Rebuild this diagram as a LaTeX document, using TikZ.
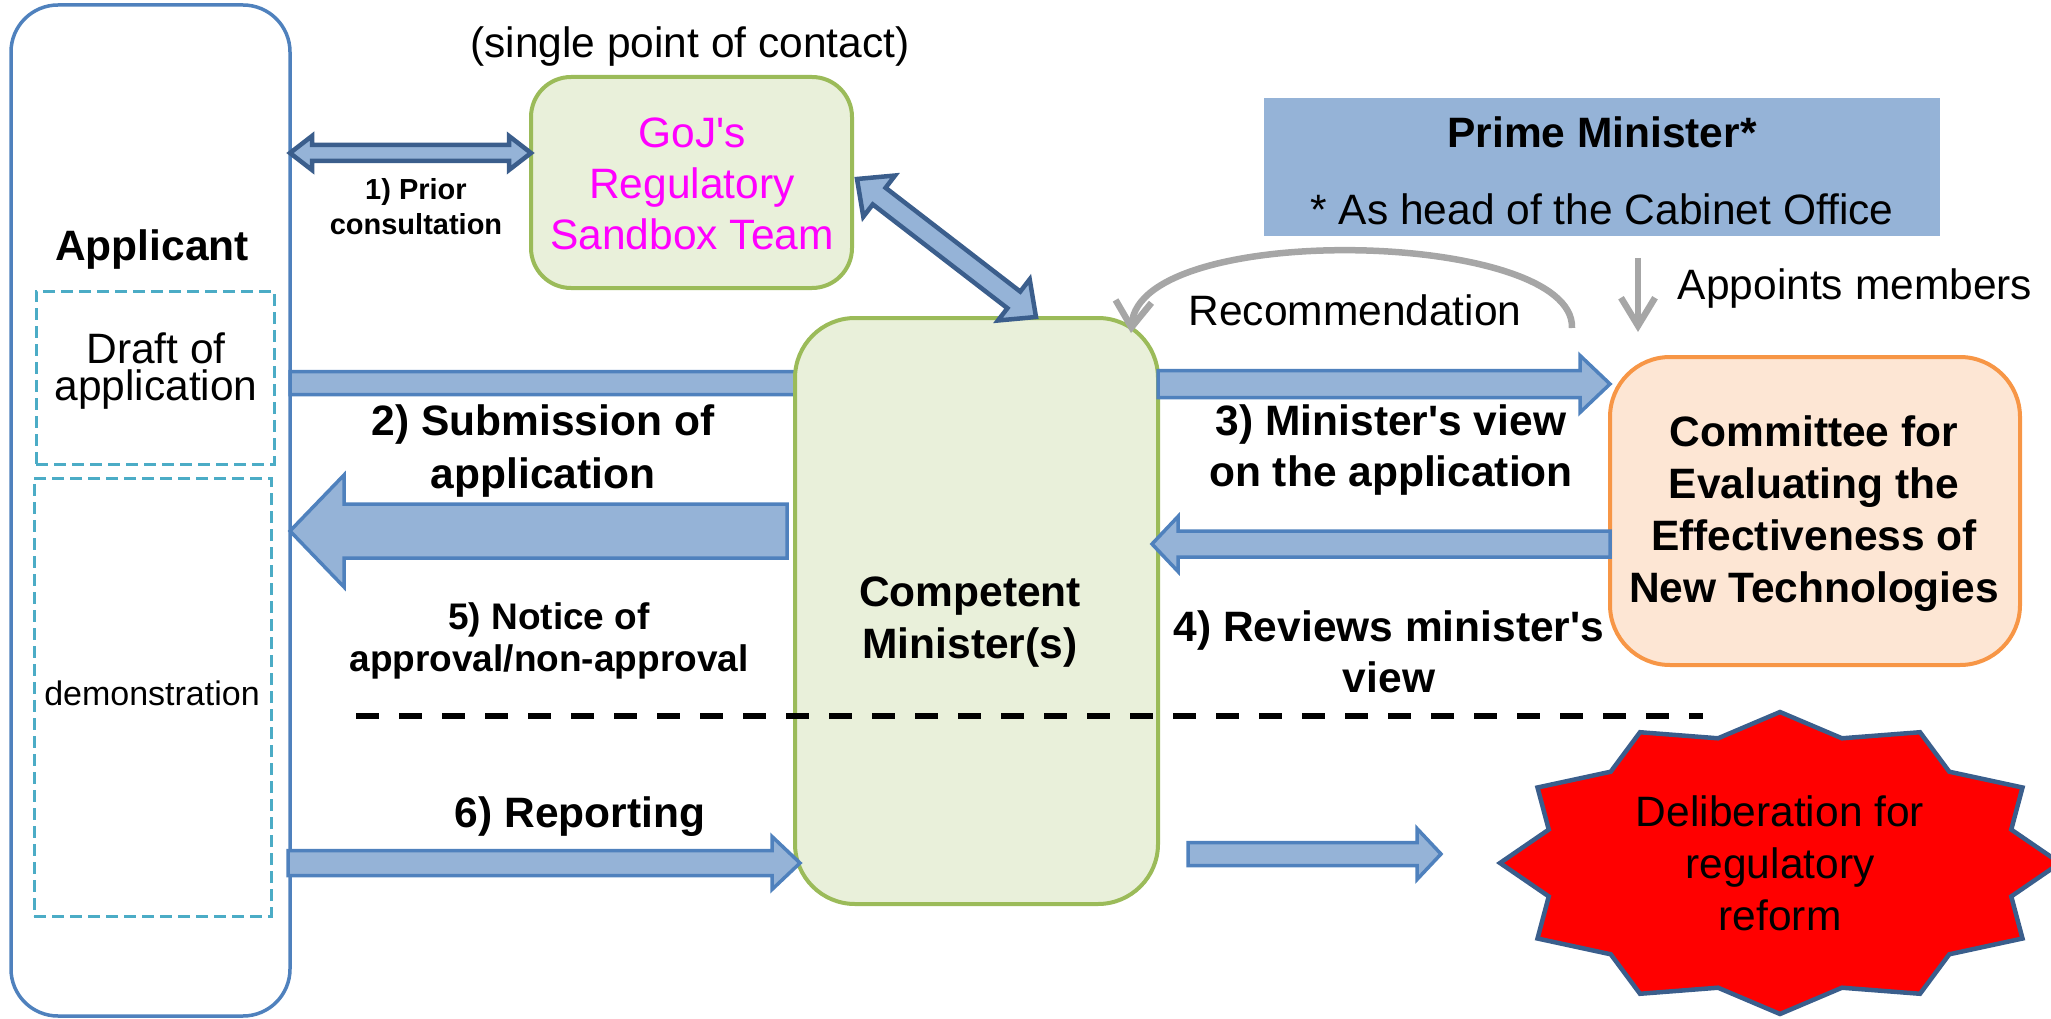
\documentclass[tikz,border=0pt]{standalone}
\usepackage{fontspec}
\setmainfont{Liberation Sans}
\usetikzlibrary{calc,arrows.meta}
\pgfdeclarelayer{bg}
\pgfsetlayers{bg,main}
\definecolor{arrfill}{HTML}{95B3D7}
\definecolor{arrline}{HTML}{4F81BD}
\definecolor{darkline}{HTML}{3B5E8C}
\definecolor{grnline}{HTML}{9BBB59}
\definecolor{grnfill}{HTML}{E9F0DA}
\definecolor{orgline}{HTML}{F79646}
\definecolor{orgfill}{HTML}{FDE6D4}
\definecolor{dashcol}{HTML}{4BACC6}
\definecolor{pmfill}{HTML}{95B3D7}
\definecolor{grayarr}{HTML}{A6A6A6}
\definecolor{starline}{HTML}{3A5E8C}
\definecolor{magen}{HTML}{FF00FF}
\tikzset{
  barrow/.style={fill=arrfill, draw=arrline, line width=3.5pt, line join=miter},
  dbarrow/.style={fill=arrfill, draw=darkline, line width=4.5pt, line join=miter},
  boxnode/.style={rectangle, inner sep=0pt, outer sep=0pt},
  txt/.style={inner sep=0pt, align=center, font=\fontsize{42.5}{51}\selectfont},
  btxt/.style={inner sep=0pt, align=center, font=\fontsize{42.5}{51}\selectfont\bfseries},
  grayline/.style={draw=grayarr, line width=6.5pt},
}
\newcommand\blockarr[6][]{%
  \coordinate (ba-h) at ($(#3)!#6pt!(#2)$);
  \draw[barrow,#1] ($(#2)!#4pt!90:(#3)$) -- ($(ba-h)!#4pt!-90:(#2)$) -- ($(ba-h)!#5pt!-90:(#2)$) -- (#3) -- ($(ba-h)!#5pt!90:(#2)$) -- ($(ba-h)!#4pt!90:(#2)$) -- ($(#2)!#4pt!-90:(#3)$) -- cycle;
}
\newcommand\dblarr[6][]{%
  \coordinate (da-h1) at ($(#2)!#6pt!(#3)$);
  \coordinate (da-h2) at ($(#3)!#6pt!(#2)$);
  \draw[dbarrow,#1] (#2) -- ($(da-h1)!#5pt!90:(#3)$) -- ($(da-h1)!#4pt!90:(#3)$) -- ($(da-h2)!#4pt!-90:(#2)$) -- ($(da-h2)!#5pt!-90:(#2)$) -- (#3) -- ($(da-h2)!#5pt!90:(#2)$) -- ($(da-h2)!#4pt!90:(#2)$) -- ($(da-h1)!#4pt!-90:(#3)$) -- ($(da-h1)!#5pt!-90:(#3)$) -- cycle;
}
\begin{document}
\begin{tikzpicture}[x=1pt,y=-1pt]
\useasboundingbox (0,0) rectangle (2051,1019);
% boxes
\node[boxnode, draw=arrline, line width=3.5pt, rounded corners=47pt, minimum width=279pt, minimum height=1011pt] (appl) at (150.5,510.5) {};
\node[boxnode, draw=dashcol, line width=3pt, dash pattern=on 12pt off 6pt, minimum width=238pt, minimum height=173pt] (draftbox) at (155,377.5) {};
\node[boxnode, draw=dashcol, line width=3pt, dash pattern=on 12pt off 6pt, minimum width=237pt, minimum height=438pt] (demobox) at (152.5,697) {};
\node[boxnode, draw=grnline, fill=grnfill, line width=4pt, rounded corners=40pt, minimum width=321pt, minimum height=211pt] (goj) at (691.5,182.5) {};
\node[boxnode, draw=grnline, fill=grnfill, line width=4pt, rounded corners=60pt, minimum width=363pt, minimum height=586pt] (comp) at (976.5,611) {};
\node[boxnode, fill=pmfill, minimum width=676pt, minimum height=138pt] (pm) at (1602,167) {};
\node[boxnode, draw=orgline, fill=orgfill, line width=4pt, rounded corners=60pt, minimum width=410pt, minimum height=308pt] (comm) at (1815,511) {};
% star
\draw[fill=red, draw=starline, line width=4.5pt, line join=miter] (1780,712) \foreach \i in {1,...,23}{ -- ({1780+(280-40.6*mod(\i,2))*sin(\i*15)},{863-(151-21.9*mod(\i,2))*cos(\i*15)}) } -- cycle;
\coordinate (starc) at (1780,863);
% helper coordinates
\coordinate (y383) at (0,383);
\coordinate (y531) at (0,531);
\coordinate (y384) at (0,384);
\coordinate (y544) at (0,544);
\coordinate (y863) at (0,863);
\coordinate (y153) at (0,153);
\coordinate (a2s) at (appl.east |- y383);
\coordinate (a2e) at ($(comp.west |- y383)+(100,0)$);
\coordinate (a5s) at ($(comp.west |- y531)+(-8,0)$);
\coordinate (a5e) at (appl.east |- y531);
\coordinate (a3s) at (comp.east |- y384);
\coordinate (a3e) at (comm.west |- y384);
\coordinate (a4s) at (comm.west |- y544);
\coordinate (a4e) at ($(comp.east |- y544)+(-6,0)$);
\coordinate (a6s) at ($(appl.east |- y863)+(-2,0)$);
\coordinate (a6e) at ($(comp.west |- y863)+(5,0)$);
\coordinate (a7s) at (1188,854);
\coordinate (a7e) at (1441,854);
\coordinate (a1s) at (appl.east |- y153);
\coordinate (a1e) at (goj.west |- y153);
\coordinate (a8s) at ($(goj.east)+(5,-3.5)$);
\coordinate (a8e) at ($(comp.north)+(59.5,-1)$);
% block arrows
\begin{pgfonlayer}{bg}
\blockarr{a2s}{a2e}{11.5}{27}{28}
\end{pgfonlayer}
\blockarr{a5s}{a5e}{27}{56}{54}
\blockarr{a3s}{a3e}{13.5}{28.5}{30}
\blockarr{a4s}{a4e}{13}{27.5}{26}
\blockarr{a6s}{a6e}{12.5}{26.5}{28}
\blockarr{a7s}{a7e}{11.5}{25.5}{24}
\dblarr{a1s}{a1e}{8}{17}{22}
\dblarr{a8s}{a8e}{10.5}{26}{28}
% gray arrows
\coordinate (rec1) at ($(comm.north west)+(-38,-29)$);
\coordinate (rec2) at ($(comp.north east)+(-27,15)$);
\draw[grayline, -{Straight Barb[length=26pt,width=36pt]}] (rec1) .. controls +(3,-98) and +(9,-113) .. (rec2);
\coordinate (app1) at ($(pm.south)+(36,22)$);
\coordinate (app2) at ($(comm.north)+(-177,-25)$);
\draw[grayline, -{Straight Barb[length=28pt,width=34pt]}] (app1) -- (app2);
% dashed separator
\coordinate (dl1) at (356,716);
\coordinate (dl2) at (1703,716);
\draw[line width=6pt, dash pattern=on 23pt off 20pt] (dl1) -- (dl2);
% texts
\node[btxt] (tappl) at (152,250) {Applicant};
\node[txt, font=\fontsize{42.5}{37}\selectfont] (tdraft) at (156,371) {Draft of\\application};
\node[txt, font=\fontsize{34}{40}\selectfont] (tdemo) at (152,693) {demonstration};
\node[txt] (tspc) at (690,47) {(single point of contact)};
\node[txt, text=magen] (tgoj) at (692,184) {GoJ\textquotesingle s\\Regulatory\\Sandbox Team};
\node[btxt, font=\fontsize{29}{35}\selectfont\bfseries] (tprior) at (416,207) {1) Prior\\consultation};
\node[btxt, font=\fontsize{42.5}{53}\selectfont\bfseries] (tsub) at (543,451) {2) Submission of\\application};
\node[btxt, font=\fontsize{37}{42}\selectfont\bfseries] (tnot) at (549,641) {5) Notice of\\approval/non-approval};
\node[btxt] (trep) at (580,817) {6) Reporting};
\node[btxt, font=\fontsize{42.5}{52}\selectfont\bfseries] (tcomp) at (970,622) {Competent\\Minister(s)};
\node[btxt] (tmv) at (1391,450) {3) Minister\textquotesingle s view\\on the application};
\node[btxt] (trev) at (1389,652) {4) Reviews minister\textquotesingle s\\view};
\node[btxt, font=\fontsize{42.5}{52}\selectfont\bfseries] (tcomm) at (1814,514) {Committee for\\Evaluating the\\Effectiveness of\\New Technologies};
\node[btxt] (tpm) at (1602,132) {Prime Minister*};
\node[txt] (tpm2) at (1602,209) {* As head of the Cabinet Office};
\node[txt] (tapp) at (1855,289) {Appoints members};
\node[txt] (trec) at (1355,310) {Recommendation};
\node[txt, font=\fontsize{42.5}{52}\selectfont] (tdel) at (starc) {Deliberation for\\regulatory\\reform};
\end{tikzpicture}
\end{document}
